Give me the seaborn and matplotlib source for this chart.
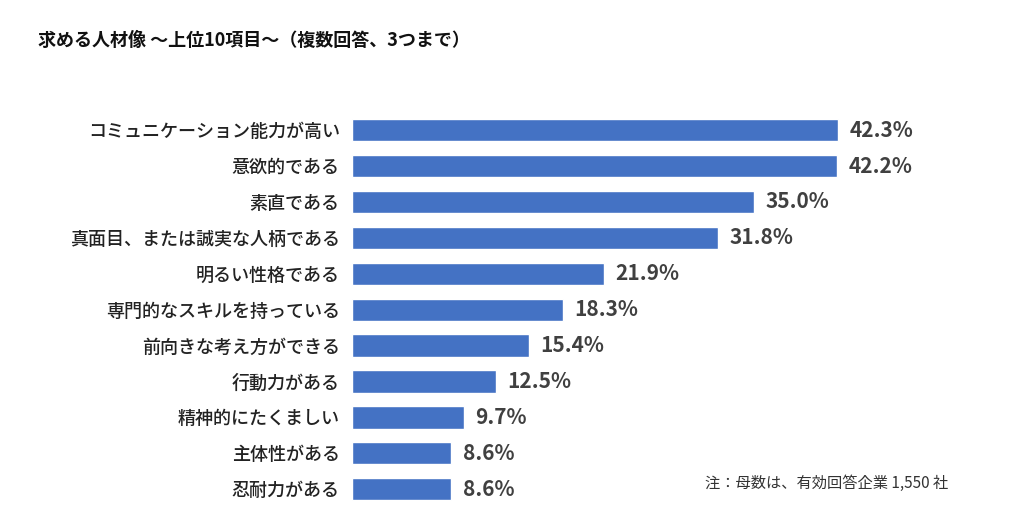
import matplotlib
matplotlib.use("Agg")
import matplotlib.pyplot as plt
import seaborn as sns
import pandas as pd

items = [
    "コミュニケーション能力が高い",
    "意欲的である",
    "素直である",
    "真面目、または誠実な人柄である",
    "明るい性格である",
    "専門的なスキルを持っている",
    "前向きな考え方ができる",
    "行動力がある",
    "精神的にたくましい",
    "主体性がある",
    "忍耐力がある",
]
rates = [42.3, 42.2, 35.0, 31.8, 21.9, 18.3, 15.4, 12.5, 9.7, 8.6, 8.6]

title = "求める人材像 〜上位10項目〜（複数回答、3つまで）"
note = "注：母数は、有効回答企業 1,550 社"

sns.set_theme(style="white")
plt.rcParams["font.family"] = ["Noto Sans CJK JP", "DejaVu Sans"]

df = pd.DataFrame({"item": items, "rate": rates})

fig = plt.figure(figsize=(10.24, 5.24), dpi=100)
ax = fig.add_axes([0.344, 0.032, 0.606, 0.754])

sns.barplot(data=df, x="rate", y="item", color="#4472C4", saturation=1,
            width=0.62, ax=ax)

ax.set_xlim(0, 54)
ax.set_xlabel("")
ax.set_ylabel("")
ax.set_xticks([])
sns.despine(ax=ax, left=True, bottom=True)
ax.tick_params(axis="y", length=0, pad=9, labelsize=13, labelcolor="#222222")
for lbl in ax.get_yticklabels():
    lbl.set_fontweight("medium")

for i, v in enumerate(rates):
    ax.text(v + 1.0, i, f"{v:.1f}%", va="center", ha="left",
            fontsize=15, fontweight="bold", color="#404040")

fig.text(0.037, 0.923, title, fontsize=13, fontweight="bold",
         color="#111111", va="center", ha="left")
fig.text(0.926, 0.077, note, fontsize=11, color="#333333",
         va="center", ha="right")

fig.savefig("out.png", dpi=100, facecolor="white")
